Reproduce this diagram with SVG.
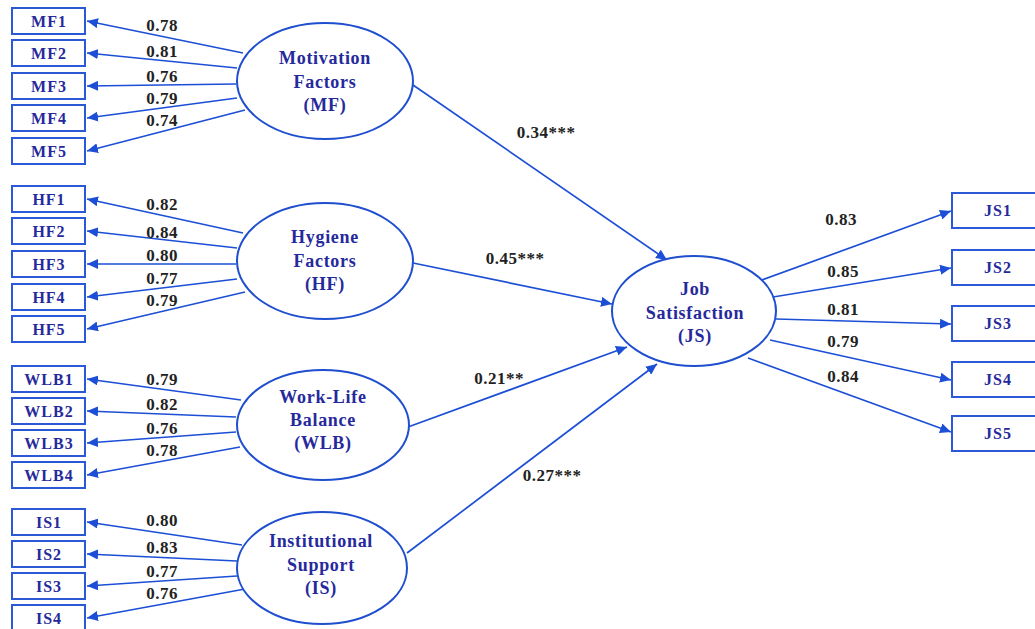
<svg xmlns="http://www.w3.org/2000/svg" width="1035" height="629" viewBox="0 0 1035 629">
<defs>
<marker id="ah" markerUnits="userSpaceOnUse" markerWidth="12" markerHeight="10" refX="11" refY="5" orient="auto">
<path d="M0,0 L11,5 L0,10 z" fill="#1c4fd6"/>
</marker>
<style>
.bx{fill:#fff;stroke:#2b58d6;stroke-width:2}
.el{fill:#fff;stroke:#1f4fcf;stroke-width:2}
.bt{font-family:"Liberation Serif",serif;font-weight:bold;font-size:16px;letter-spacing:1px;fill:#26299c;text-anchor:middle}
.et{font-family:"Liberation Serif",serif;font-weight:bold;font-size:18px;letter-spacing:0.7px;fill:#26299c;text-anchor:middle}
.lb{font-family:"Liberation Serif",serif;font-weight:bold;font-size:17px;letter-spacing:0.5px;fill:#222;text-anchor:middle}
.ln{stroke:#1c4fd6;stroke-width:1.7;fill:none;marker-end:url(#ah)}
</style>
</defs>
<rect width="1035" height="629" fill="#fff"/>
<g id="connectors">
<line class="ln" x1="243" y1="53" x2="87" y2="21"/>
<line class="ln" x1="237" y1="68" x2="87" y2="53"/>
<line class="ln" x1="236" y1="84" x2="87" y2="86"/>
<line class="ln" x1="237" y1="98" x2="87" y2="118"/>
<line class="ln" x1="245" y1="110" x2="87" y2="151"/>
<line class="ln" x1="243" y1="233" x2="87" y2="199"/>
<line class="ln" x1="237" y1="248" x2="87" y2="231"/>
<line class="ln" x1="236" y1="264" x2="87" y2="264"/>
<line class="ln" x1="237" y1="279" x2="87" y2="297"/>
<line class="ln" x1="245" y1="292" x2="87" y2="329"/>
<line class="ln" x1="241" y1="400" x2="87" y2="379"/>
<line class="ln" x1="236" y1="417" x2="87" y2="411"/>
<line class="ln" x1="236" y1="432" x2="87" y2="443"/>
<line class="ln" x1="240" y1="447" x2="87" y2="475"/>
<line class="ln" x1="242" y1="545" x2="87" y2="522"/>
<line class="ln" x1="237" y1="561" x2="87" y2="554"/>
<line class="ln" x1="237" y1="576" x2="87" y2="586"/>
<line class="ln" x1="245" y1="589" x2="87" y2="618"/>
<line class="ln" x1="413" y1="85" x2="667" y2="260"/>
<line class="ln" x1="413" y1="263" x2="612" y2="304"/>
<line class="ln" x1="408" y1="427" x2="627" y2="347"/>
<line class="ln" x1="407" y1="553" x2="657" y2="364"/>
<line class="ln" x1="762" y1="280" x2="951" y2="211"/>
<line class="ln" x1="773" y1="297" x2="951" y2="268"/>
<line class="ln" x1="776" y1="319" x2="951" y2="324"/>
<line class="ln" x1="770" y1="340" x2="951" y2="380"/>
<line class="ln" x1="748" y1="358" x2="951" y2="432"/>
</g>
<g id="loadings">
<text class="lb" x="162" y="31">0.78</text>
<text class="lb" x="162" y="57">0.81</text>
<text class="lb" x="162" y="82">0.76</text>
<text class="lb" x="162" y="104">0.79</text>
<text class="lb" x="162" y="126">0.74</text>
<text class="lb" x="162" y="210">0.82</text>
<text class="lb" x="162" y="238">0.84</text>
<text class="lb" x="162" y="261">0.80</text>
<text class="lb" x="162" y="284">0.77</text>
<text class="lb" x="162" y="306">0.79</text>
<text class="lb" x="162" y="385">0.79</text>
<text class="lb" x="162" y="410">0.82</text>
<text class="lb" x="162" y="434">0.76</text>
<text class="lb" x="162" y="456">0.78</text>
<text class="lb" x="162" y="526">0.80</text>
<text class="lb" x="162" y="553">0.83</text>
<text class="lb" x="162" y="577">0.77</text>
<text class="lb" x="162" y="599">0.76</text>
<text class="lb" x="546" y="138">0.34***</text>
<text class="lb" x="515" y="264">0.45***</text>
<text class="lb" x="499" y="384">0.21**</text>
<text class="lb" x="552" y="481">0.27***</text>
<text class="lb" x="841" y="225">0.83</text>
<text class="lb" x="843" y="277">0.85</text>
<text class="lb" x="843" y="315">0.81</text>
<text class="lb" x="843" y="347">0.79</text>
<text class="lb" x="843" y="382">0.84</text>
</g>
<g id="MF"><ellipse class="el" cx="325" cy="81" rx="88" ry="58"/><text class="et" x="325" y="64">Motivation</text><text class="et" x="325" y="88">Factors</text><text class="et" x="325" y="111">(MF)</text></g>
<g id="HF"><ellipse class="el" cx="325" cy="261" rx="88" ry="58"/><text class="et" x="325" y="243">Hygiene</text><text class="et" x="325" y="267">Factors</text><text class="et" x="325" y="290">(HF)</text></g>
<g id="WLB"><ellipse class="el" cx="323" cy="425" rx="86" ry="55"/><text class="et" x="323" y="403">Work-Life</text><text class="et" x="323" y="426">Balance</text><text class="et" x="323" y="449">(WLB)</text></g>
<g id="IS"><ellipse class="el" cx="322" cy="568" rx="85" ry="56"/><text class="et" x="321" y="547">Institutional</text><text class="et" x="321" y="571">Support</text><text class="et" x="321" y="594">(IS)</text></g>
<g id="JS"><ellipse class="el" cx="694" cy="311" rx="82" ry="55"/><text class="et" x="695" y="295">Job</text><text class="et" x="695" y="319">Satisfaction</text><text class="et" x="695" y="342">(JS)</text></g>
<g id="MF1"><rect class="bx" x="12" y="8" width="73" height="26"/><text class="bt" x="49" y="27">MF1</text></g>
<g id="MF2"><rect class="bx" x="12" y="40" width="73" height="26"/><text class="bt" x="49" y="59">MF2</text></g>
<g id="MF3"><rect class="bx" x="12" y="73" width="73" height="26"/><text class="bt" x="49" y="92">MF3</text></g>
<g id="MF4"><rect class="bx" x="12" y="105" width="73" height="26"/><text class="bt" x="49" y="124">MF4</text></g>
<g id="MF5"><rect class="bx" x="12" y="138" width="73" height="26"/><text class="bt" x="49" y="157">MF5</text></g>
<g id="HF1"><rect class="bx" x="12" y="186" width="73" height="26"/><text class="bt" x="49" y="205">HF1</text></g>
<g id="HF2"><rect class="bx" x="12" y="218" width="73" height="26"/><text class="bt" x="49" y="237">HF2</text></g>
<g id="HF3"><rect class="bx" x="12" y="251" width="73" height="26"/><text class="bt" x="49" y="270">HF3</text></g>
<g id="HF4"><rect class="bx" x="12" y="284" width="73" height="26"/><text class="bt" x="49" y="303">HF4</text></g>
<g id="HF5"><rect class="bx" x="12" y="316" width="73" height="26"/><text class="bt" x="49" y="335">HF5</text></g>
<g id="WLB1"><rect class="bx" x="12" y="366" width="73" height="26"/><text class="bt" x="49" y="385">WLB1</text></g>
<g id="WLB2"><rect class="bx" x="12" y="398" width="73" height="26"/><text class="bt" x="49" y="417">WLB2</text></g>
<g id="WLB3"><rect class="bx" x="12" y="430" width="73" height="26"/><text class="bt" x="49" y="449">WLB3</text></g>
<g id="WLB4"><rect class="bx" x="12" y="462" width="73" height="26"/><text class="bt" x="49" y="481">WLB4</text></g>
<g id="IS1"><rect class="bx" x="12" y="509" width="73" height="26"/><text class="bt" x="49" y="528">IS1</text></g>
<g id="IS2"><rect class="bx" x="12" y="541" width="73" height="26"/><text class="bt" x="49" y="560">IS2</text></g>
<g id="IS3"><rect class="bx" x="12" y="573" width="73" height="26"/><text class="bt" x="49" y="592">IS3</text></g>
<g id="IS4"><rect class="bx" x="12" y="605" width="73" height="26"/><text class="bt" x="49" y="624">IS4</text></g>
<g id="JS1"><rect class="bx" x="952" y="193" width="92" height="35"/><text class="bt" x="998" y="216">JS1</text></g>
<g id="JS2"><rect class="bx" x="952" y="250" width="92" height="35"/><text class="bt" x="998" y="273">JS2</text></g>
<g id="JS3"><rect class="bx" x="952" y="306" width="92" height="35"/><text class="bt" x="998" y="329">JS3</text></g>
<g id="JS4"><rect class="bx" x="952" y="362" width="92" height="35"/><text class="bt" x="998" y="385">JS4</text></g>
<g id="JS5"><rect class="bx" x="952" y="416" width="92" height="35"/><text class="bt" x="998" y="439">JS5</text></g>
</svg>
